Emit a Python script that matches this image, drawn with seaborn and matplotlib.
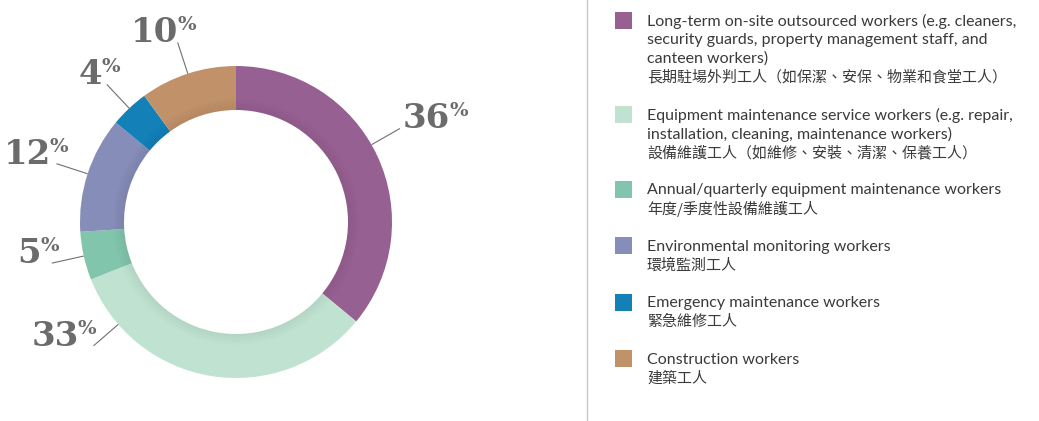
import numpy as np
import matplotlib
matplotlib.use("Agg")
import matplotlib.pyplot as plt
import seaborn as sns
from matplotlib.patches import Wedge, Rectangle
from matplotlib.lines import Line2D

sns.set_theme(style="white")
plt.rcParams['font.family'] = ['Lato', 'Noto Sans CJK TC', 'DejaVu Sans']

# data
categories = [
    "Long-term on-site outsourced workers (e.g. cleaners,\nsecurity guards, property management staff, and\ncanteen workers)\n長期駐場外判工人（如保潔、安保、物業和食堂工人）",
    "Equipment maintenance service workers (e.g. repair,\ninstallation, cleaning, maintenance workers)\n設備維護工人（如維修、安裝、清潔、保養工人）",
    "Annual/quarterly equipment maintenance workers\n年度/季度性設備維護工人",
    "Environmental monitoring workers\n環境監測工人",
    "Emergency maintenance workers\n緊急維修工人",
    "Construction workers\n建築工人",
]
shares = [36, 33, 5, 12, 4, 10]
colors = ['#976092', '#c0e3d1', '#82c5ad', '#858db8', '#1380b8', '#c19169']

# layout for the value labels
label_shift = [4.5, -40, 0, 0, 0, 0]     # degrees away from slice middle
label_frac = [0, 1, 1, 1, 0.68, 0.72]    # horizontal anchor of text vs line end
label_gap = [3, 3, 7, 12, 0, 0]          # px

W, H = 1039, 421
fig = plt.figure(figsize=(W / 100, H / 100), dpi=100)
cx, cy, R = 236, 421 - 222, 156
lim = 1.5
ax = fig.add_axes([(cx - lim * R) / W, (cy - lim * R) / H, 2 * lim * R / W, 2 * lim * R / H])

ring_w = 0.282
ax.pie(shares, colors=colors, startangle=90, counterclock=False, radius=1,
       wedgeprops=dict(width=ring_w, linewidth=0))

# soft inner shadow
inner = 1 - ring_w
n = 10
for k in range(n):
    ax.add_patch(Wedge((0, 0), inner + (k + 1) * 0.007, 0, 360, width=0.007,
                       facecolor='black', alpha=0.06 * (1 - k / n), linewidth=0))

ax.set_xlim(-lim, lim)
ax.set_ylim(-lim, lim)
ax.set_aspect('equal')
ax.axis('off')

renderer = fig.canvas.get_renderer()
lab_color = '#6b6b6b'
cum = np.cumsum([0] + shares[:-1])
for i, v in enumerate(shares):
    mid = 90 - (cum[i] + v / 2) / sum(shares) * 360 + label_shift[i]
    t = np.deg2rad(mid)
    x0, y0 = np.cos(t), np.sin(t)
    x1, y1 = 1.21 * x0, 1.21 * y0
    ax.plot([x0, x1], [y0, y1], color='#707070', lw=0.8, solid_capstyle='butt')
    num = ax.annotate(str(v), xy=(x1, y1), xytext=(0, 0), textcoords='offset pixels',
                      ha='left', va='baseline', fontsize=24.5, fontweight='bold',
                      family='DejaVu Serif', color=lab_color)
    pct = ax.annotate('%', xy=(x1, y1), xytext=(0, 0), textcoords='offset pixels',
                      ha='left', va='baseline', fontsize=14, fontweight='bold',
                      family='DejaVu Serif', color=lab_color)
    wn = num.get_window_extent(renderer).width
    wp = pct.get_window_extent(renderer).width
    total = wn - 1 + wp
    left = -label_frac[i] * total + label_gap[i]
    num.xyann = (left, 0)
    pct.xyann = (left + wn - 1, 12)

# separator
fig.add_artist(Line2D([586.5 / W, 586.5 / W], [0, 1], transform=fig.transFigure,
                      color='#c8c8c8', lw=1))

# legend
sq = 17
step = 18.7
top = 12
txt_color = '#3a3a3a'
for lab, col in zip(categories, colors):
    lines = lab.split('\n')
    fig.add_artist(Rectangle((615 / W, (H - top - sq) / H), sq / W, sq / H,
                             transform=fig.transFigure, facecolor=col, linewidth=0))
    for j, line in enumerate(lines):
        yc = top + 9.5 + j * step
        cjk = any(ord(c) > 0x2e80 for c in line)
        fig.text(647 / W, (H - yc) / H, line, ha='left', va='center',
                 fontsize=10.8 if cjk else 11.5,
                 family=['Noto Sans CJK TC', 'Lato'] if cjk else ['Lato', 'Noto Sans CJK TC'],
                 color=txt_color)
    top += len(lines) * step + 19

fig.savefig('out.png', dpi=100)
